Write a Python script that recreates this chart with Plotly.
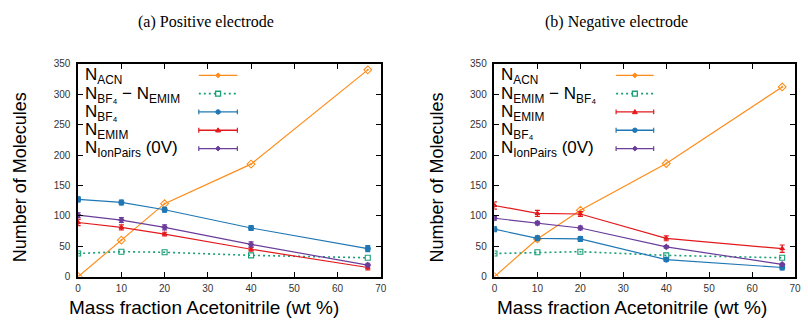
import plotly.graph_objects as go

W, H = 808, 325

# ---------------- data ----------------
x_wt = [0, 10, 20, 40, 67]

# (a) Positive electrode
pos_acn = [0, 60, 120, 185, 340]
pos_diff = [38, 41, 40, 35, 31]          # N_BF4 - N_EMIM
pos_bf4 = [127, 122, 110, 80, 46]
pos_bf4_err = [4, 4, 4, 4, 5]
pos_emim = [89, 81, 70, 45, 15]
pos_emim_err = [5, 4, 3, 3, 4]
pos_ion = [101, 93, 81, 53, 19]
pos_ion_err = [4, 4, 4, 4, 3]

# (b) Negative electrode
neg_acn = [0, 62, 109, 186, 312]
neg_diff = [38, 40, 41, 35, 31]          # N_EMIM - N_BF4
neg_emim = [117, 104, 103, 63, 46]
neg_emim_err = [6, 5, 4, 4, 6]
neg_bf4 = [78, 63, 62, 28, 15]
neg_bf4_err = [4, 4, 4, 3, 4]
neg_ion = [96, 88, 80, 49, 20]
neg_ion_err = [3, 3, 3, 2, 2]

y_ticks = [0, 50, 100, 150, 200, 250, 300, 350]
x_ticks = [0, 10, 20, 30, 40, 50, 60, 70]

titles = ["(a) Positive electrode", "(b) Negative electrode"]
x_title = "Mass fraction Acetonitrile (wt %)"
y_title = "Number of Molecules"

# ---------------- styles ----------------
C_ACN = "#ff8c1a"
C_DIFF = "#1a9e77"
C_BF4 = "#1f77b4"
C_EMIM = "#e3191c"
C_ION = "#6a3d9a"
DOT = "2px,3px"

fig = go.Figure()


def add_series(xa, ya, y, color, symbol, err=None, dash="solid", size=5, name=""):
    kw = {}
    if err is not None:
        kw["error_y"] = dict(type="data", array=err, visible=True, color=color,
                             thickness=1.2, width=2.5)
    fig.add_trace(go.Scatter(
        x=x_wt, y=y, mode="lines+markers", xaxis=xa, yaxis=ya, name=name,
        line=dict(color=color, width=1.2 if dash == "solid" else 1.6, dash=dash),
        marker=dict(color=color, symbol=symbol, size=size,
                    line=dict(color=color, width=1.1)),
        showlegend=False, **kw))


# left panel
add_series("x", "y", pos_acn, C_ACN, "diamond-open-dot", size=6)
add_series("x", "y", pos_diff, C_DIFF, "square-open", dash=DOT, size=5)
add_series("x", "y", pos_bf4, C_BF4, "circle", err=pos_bf4_err, size=5)
add_series("x", "y", pos_emim, C_EMIM, "triangle-up", err=pos_emim_err, size=4)
add_series("x", "y", pos_ion, C_ION, "diamond", err=pos_ion_err, size=4)
# right panel
add_series("x2", "y2", neg_acn, C_ACN, "diamond-open-dot", size=6)
add_series("x2", "y2", neg_diff, C_DIFF, "square-open", dash=DOT, size=5)
add_series("x2", "y2", neg_emim, C_EMIM, "triangle-up", err=neg_emim_err, size=4)
add_series("x2", "y2", neg_bf4, C_BF4, "circle", err=neg_bf4_err, size=5)
add_series("x2", "y2", neg_ion, C_ION, "diamond", err=neg_ion_err, size=4)

# ---------------- layout ----------------
def px_x(p):
    return p / W


def px_y(p):
    return 1 - p / H


dom_y = [px_y(281), px_y(60)]
dom_x1 = [px_x(76), px_x(382)]
dom_x2 = [px_x(497), px_x(801)]

tickfont = dict(family="Liberation Sans, Arial, sans-serif", size=10, color="#333333")
common_x = dict(range=[0, 70], tickvals=x_ticks, ticks="inside", ticklen=5,
                tickcolor="#000", tickwidth=1, showline=True, linecolor="#000",
                linewidth=1.5, mirror="ticks", showgrid=False, zeroline=False,
                tickfont=tickfont, ticklabelstandoff=2)
common_y = dict(range=[0, 350], tickvals=y_ticks, ticks="inside", ticklen=5,
                tickcolor="#000", tickwidth=1, showline=True, linecolor="#000",
                linewidth=1.5, mirror="ticks", showgrid=False, zeroline=False,
                tickfont=tickfont, ticklabelstandoff=4)

fig.update_layout(
    width=W, height=H, margin=dict(l=0, r=0, t=0, b=0),
    paper_bgcolor="white", plot_bgcolor="white", showlegend=False,
    xaxis=dict(common_x, domain=dom_x1, anchor="y"),
    yaxis=dict(common_y, domain=dom_y, anchor="x"),
    xaxis2=dict(common_x, domain=dom_x2, anchor="y2"),
    yaxis2=dict(common_y, domain=dom_y, anchor="x2"),
)

ann = []
label_font = dict(family="Liberation Sans, Arial, sans-serif", size=19, color="#000")
ylabel_font = dict(family="Liberation Sans, Arial, sans-serif", size=18, color="#000")
title_font = dict(family="Liberation Serif, Times New Roman, serif", size=16, color="#000")
for i, (tcx, xlcx, ylx) in enumerate([(205, 203, 18), (620, 636, 439)]):
    ann.append(dict(x=px_x(tcx), y=px_y(17), xref="paper", yref="paper",
                    text=titles[i], showarrow=False, font=title_font,
                    xanchor="center", yanchor="middle"))
    ann.append(dict(x=px_x(xlcx), y=px_y(313), xref="paper", yref="paper",
                    text=x_title, showarrow=False, font=label_font,
                    xanchor="center", yanchor="middle"))
    ann.append(dict(x=px_x(ylx), y=px_y(178),
                    xref="paper", yref="paper", text=y_title, textangle=-90,
                    showarrow=False, font=ylabel_font, xanchor="center", yanchor="middle"))

# ---------------- manual legends (key on the right of the label) ----------------
leg_font = dict(family="Liberation Sans, Arial, sans-serif", size=17, color="#000")
legend_a = [
    ("N<sub>ACN</sub>", C_ACN, "solid", False, "diamond"),
    ("N<sub>BF₄</sub> − N<sub>EMIM</sub>", C_DIFF, "dot", False, "square"),
    ("N<sub>BF₄</sub>", C_BF4, "solid", True, "circle"),
    ("N<sub>EMIM</sub>", C_EMIM, "solid", True, "triangle"),
    ("N<sub>IonPairs</sub> (0V)", C_ION, "solid", True, "diamond"),
]
legend_b = [
    ("N<sub>ACN</sub>", C_ACN, "solid", False, "diamond"),
    ("N<sub>EMIM</sub> − N<sub>BF₄</sub>", C_DIFF, "dot", False, "square"),
    ("N<sub>EMIM</sub>", C_EMIM, "solid", True, "triangle"),
    ("N<sub>BF₄</sub>", C_BF4, "solid", True, "circle"),
    ("N<sub>IonPairs</sub> (0V)", C_ION, "solid", True, "diamond"),
]
rows_y = [72, 91, 110, 129, 148]
shapes = []
for entries, tx, lx0, lx1 in [(legend_a, 81, 198, 237), (legend_b, 502, 620, 658)]:
    for (txt, col, dash, caps, mk), ry in zip(entries, rows_y):
        ann.append(dict(x=px_x(tx), y=px_y(ry + 1), xref="paper", yref="paper",
                        text=txt, showarrow=False, font=leg_font,
                        xanchor="left", yanchor="middle"))
        shapes.append(dict(type="line", xref="paper", yref="paper",
                           x0=px_x(lx0), x1=px_x(lx1), y0=px_y(ry), y1=px_y(ry),
                           line=dict(color=col, width=1.3 if dash == "solid" else 1.6,
                                     dash="solid" if dash == "solid" else DOT)))
        if caps:
            for cxp in (lx0, lx1):
                shapes.append(dict(type="line", xref="paper", yref="paper",
                                   x0=px_x(cxp), x1=px_x(cxp),
                                   y0=px_y(ry - 2.5), y1=px_y(ry + 2.5),
                                   line=dict(color=col, width=1.2)))
        mx = (lx0 + lx1) / 2
        r = 2.3
        if mk == "circle":
            shapes.append(dict(type="circle", xref="paper", yref="paper",
                               x0=px_x(mx - r), x1=px_x(mx + r),
                               y0=px_y(ry - r), y1=px_y(ry + r),
                               fillcolor=col, line=dict(color=col, width=1)))
        elif mk == "square":
            shapes.append(dict(type="rect", xref="paper", yref="paper",
                               x0=px_x(mx - 2.5), x1=px_x(mx + 2.5),
                               y0=px_y(ry - 2.5), y1=px_y(ry + 2.5),
                               fillcolor="white", line=dict(color=col, width=1.3)))
        elif mk == "triangle":
            path = "M {} {} L {} {} L {} {} Z".format(
                px_x(mx - 2.5), px_y(ry + 1.8), px_x(mx + 2.5), px_y(ry + 1.8),
                px_x(mx), px_y(ry - 2.5))
            shapes.append(dict(type="path", xref="paper", yref="paper", path=path,
                               fillcolor=col, line=dict(color=col, width=1)))
        else:
            path = "M {} {} L {} {} L {} {} L {} {} Z".format(
                px_x(mx - 2.5), px_y(ry), px_x(mx), px_y(ry - 2.5),
                px_x(mx + 2.5), px_y(ry), px_x(mx), px_y(ry + 2.5))
            shapes.append(dict(type="path", xref="paper", yref="paper", path=path,
                               fillcolor=col, line=dict(color=col, width=1)))

fig.update_layout(annotations=ann, shapes=shapes)
fig.write_html("out.html")
